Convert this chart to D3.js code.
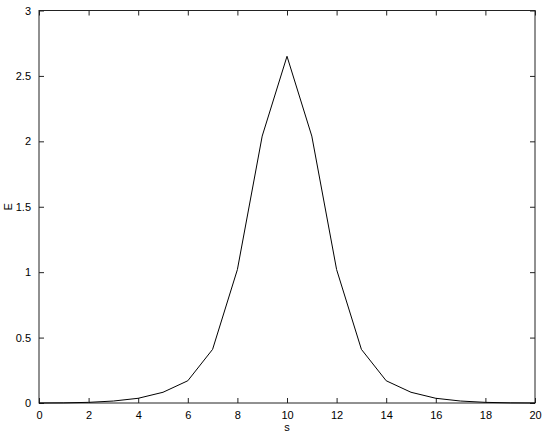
<!DOCTYPE html>
<html><head><meta charset="utf-8">
<script src="https://cdn.jsdelivr.net/npm/d3@7"></script>
<style>body{margin:0;background:#fff}svg{display:block}text{font-family:"Liberation Sans",Arial,sans-serif}</style>
</head><body>
<script>
const sValues = [0,1,2,3,4,5,6,7,8,9,10,11,12,13,14,15,16,17,18,19,20];
const eValues = [0,0.001,0.005,0.015,0.036,0.082,0.17,0.41,1.02,2.04,2.65,2.04,1.02,0.41,0.17,0.082,0.036,0.015,0.005,0.001,0];
const xTicks = [0,2,4,6,8,10,12,14,16,18,20];
const yTicks = [0,0.5,1,1.5,2,2.5,3];
const xLabel = "s", yLabel = "E";

const W = 545, H = 436;
const m = {left:39, right:10, top:10.5, bottom:33};
const svg = d3.select("body").append("svg").attr("width",W).attr("height",H);
const x = d3.scaleLinear().domain([0,20]).range([m.left, W-m.right]);
const y = d3.scaleLinear().domain([0,3]).range([H-m.bottom, m.top]);

const g = svg.append("g");
// frame
g.append("rect").attr("x",x(0)).attr("y",y(3)).attr("width",x(20)-x(0)).attr("height",y(0)-y(3))
 .attr("fill","none").attr("stroke","#222").attr("stroke-width",1);

const fmt = d => String(d);
const axB = g.append("g").attr("transform",`translate(0,${y(0)})`)
  .call(d3.axisBottom(x).tickValues(xTicks).tickSize(-5).tickPadding(8).tickFormat(fmt));
const axT = g.append("g").attr("transform",`translate(0,${y(3)})`)
  .call(d3.axisTop(x).tickValues(xTicks).tickSize(-5).tickFormat(""));
const axL = g.append("g").attr("transform",`translate(${x(0)},0)`)
  .call(d3.axisLeft(y).tickValues(yTicks).tickSize(-5).tickPadding(8).tickFormat(fmt));
const axR = g.append("g").attr("transform",`translate(${x(20)},0)`)
  .call(d3.axisRight(y).tickValues(yTicks).tickSize(-5).tickFormat(""));
[axB,axT,axL,axR].forEach(a=>{
  a.select(".domain").remove();
  a.selectAll("line").attr("stroke","#222");
  a.selectAll("text").attr("font-size",11).attr("fill","#000").style("font-family","'Liberation Sans',Arial,sans-serif");
});

g.append("path").datum(sValues.map((s,i)=>[s,eValues[i]]))
 .attr("fill","none").attr("stroke","#000").attr("stroke-width",1)
 .attr("d", d3.line().x(d=>x(d[0])).y(d=>y(d[1])));

svg.append("text").attr("x",(x(0)+x(20))/2).attr("y",431).attr("text-anchor","middle")
 .attr("font-size",11).text(xLabel);
svg.append("text").attr("transform",`translate(12,${(y(0)+y(3))/2}) rotate(-90)`).attr("text-anchor","middle")
 .attr("font-size",11).text(yLabel);
</script>
</body></html>
